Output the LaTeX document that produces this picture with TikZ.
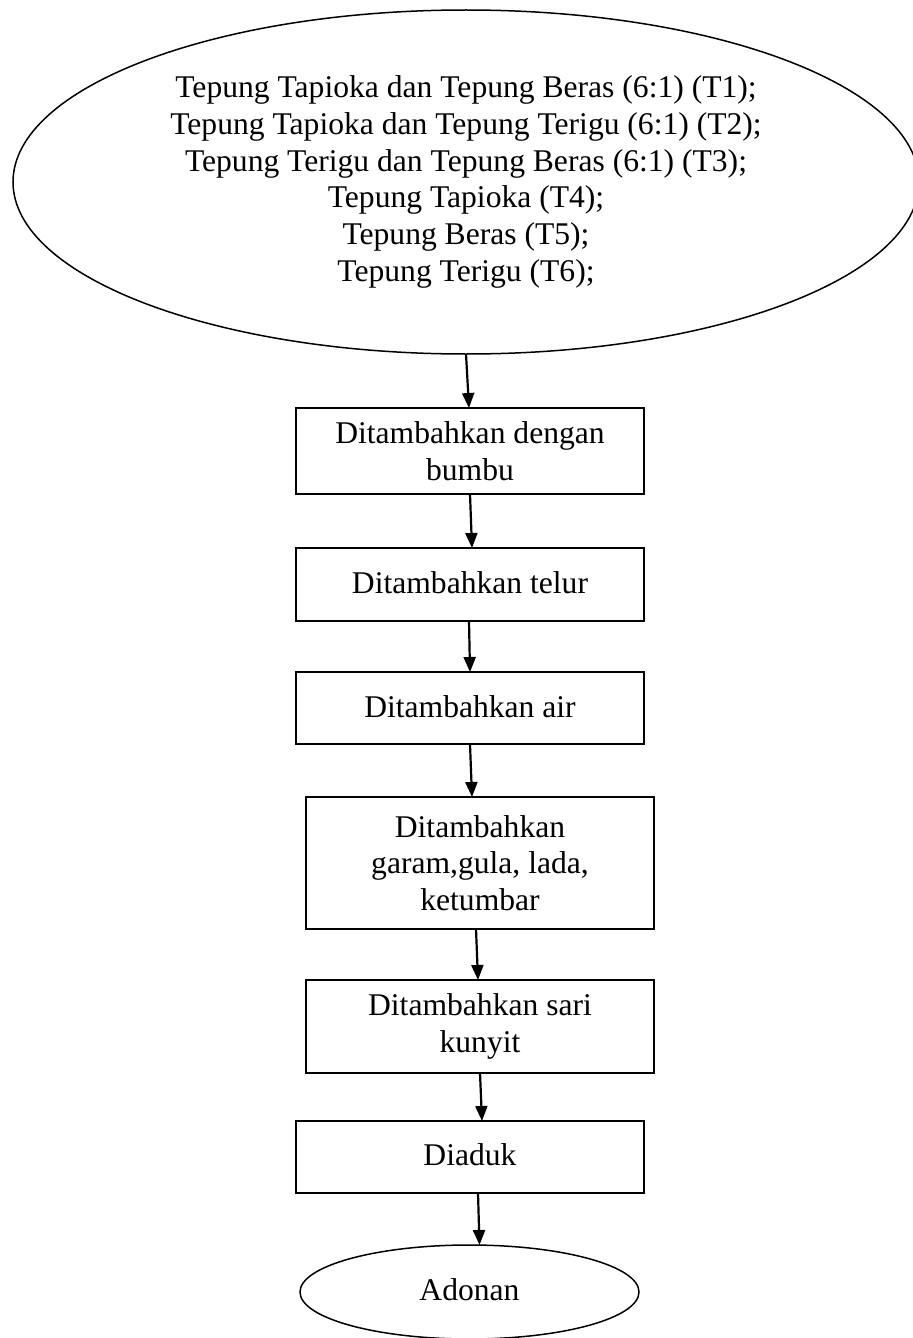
\documentclass[tikz,border=0pt]{standalone}
\usepackage{fontspec}
\setmainfont{Liberation Serif}
\usetikzlibrary{shapes.geometric,arrows.meta}
\begin{document}
\begin{tikzpicture}[x=0.5pt,y=-0.5pt,
  every node/.style={inner sep=0pt,outer sep=0pt},
  procbox/.style={draw,line width=0.75pt,rectangle,minimum width=174pt,align=center,font=\fontsize{15.8}{18.2}\selectfont},
  oval/.style={draw,line width=0.75pt,ellipse,align=center},
  arr/.style={line width=1.1pt,-{Triangle[width=6pt,length=7.5pt]}}]
\useasboundingbox (0,0) rectangle (913,1338);
\node[oval,minimum width=453pt,minimum height=172pt,font=\fontsize{15.8}{18.35}\selectfont] (e1) at (466,182)
 {Tepung Tapioka dan Tepung Beras (6:1) (T1);\\
  Tepung Tapioka dan Tepung Terigu (6:1) (T2);\\
  Tepung Terigu dan Tepung Beras (6:1) (T3);\\
  Tepung Tapioka (T4);\\
  Tepung Beras (T5);\\
  Tepung Terigu (T6);};
\node[procbox,minimum height=43pt] (b1) at (470,451) {Ditambahkan dengan\\bumbu};
\node[procbox,minimum height=36.5pt] (b2) at (470,584.5) {\raisebox{1.5pt}{Ditambahkan telur}};
\node[procbox,minimum height=36pt] (b3) at (470,708) {\raisebox{1.5pt}{Ditambahkan air}};
\node[procbox,minimum height=66pt] (b4) at (480,863) {Ditambahkan\\garam,gula, lada,\\ketumbar};
\node[procbox,minimum height=46.5pt] (b5) at (480,1026.5) {Ditambahkan sari\\kunyit};
\node[procbox,minimum height=36pt] (b6) at (470,1157) {\raisebox{2pt}{Diaduk}};
\node[oval,minimum width=169.5pt,minimum height=47pt,font=\fontsize{15.8}{17.5}\selectfont] (e2) at (469.5,1292) {\raisebox{2pt}{Adonan}};
\draw[arr] (e1.south) -- ([xshift=-0.5pt]b1.north);
\draw[arr] (b1.south) -- ([xshift=1pt]b2.north);
\draw[arr] ([xshift=-0.5pt]b2.south) -- (b3.north);
\draw[arr] (b3.south) -- ([xshift=-4pt]b4.north);
\draw[arr] ([xshift=-2pt]b4.south) -- ([xshift=-1pt]b5.north);
\draw[arr] (b5.south) -- ([xshift=6pt]b6.north);
\draw[arr] ([xshift=4pt]b6.south) -- ([xshift=5pt]e2.north);
\end{tikzpicture}
\end{document}
